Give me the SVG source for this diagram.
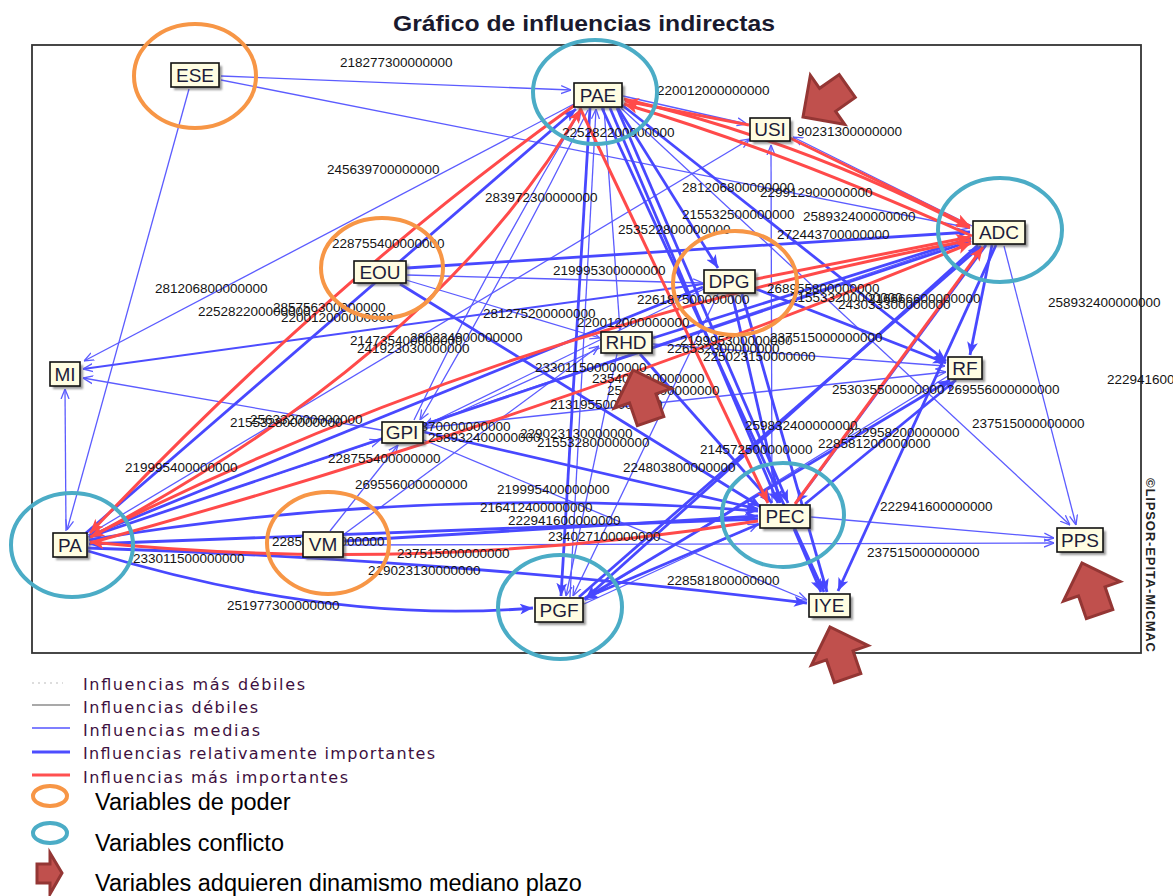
<svg xmlns="http://www.w3.org/2000/svg" width="1173" height="896" viewBox="0 0 1173 896">
<style>
  .t{fill:none;stroke:#5c5cff;stroke-width:1.3;marker-end:url(#mt)}
  .b{fill:none;stroke:#4848ff;stroke-width:2.8;marker-end:url(#mb)}
  .m{fill:none;stroke:#4d4dff;stroke-width:2;marker-end:url(#mt)}
  .r{fill:none;stroke:#ff4a4a;stroke-width:3;marker-end:url(#mr)}
  .lb{font-family:"Liberation Sans",Arial,sans-serif;font-size:13.5px;fill:#141414}
  .bx{fill:#fffde2;stroke:#111;stroke-width:1.6}
  .sh{fill:#555;opacity:.6;filter:url(#blur)}
  .nt{font-family:"Liberation Sans",Arial,sans-serif;font-size:19px;fill:#1c1c3a;text-anchor:middle}
  .pw{fill:none;stroke:#f79646;stroke-width:4}
  .cf{fill:none;stroke:#4bacc6;stroke-width:4}
  .ar{fill:#c0504d;stroke:#943634;stroke-width:3;stroke-linejoin:miter}
  .lg{font-family:"DejaVu Sans",Verdana,sans-serif;font-size:16px;fill:#3d1040}
  .lv{font-family:"Liberation Sans",Arial,sans-serif;font-size:23.5px;fill:#000}
</style>
<defs>
  <filter id="blur" x="-20%" y="-20%" width="140%" height="140%"><feGaussianBlur stdDeviation="1"/></filter>
  <marker id="mt" viewBox="0 0 10 10" refX="10" refY="5" markerWidth="10" markerHeight="10" markerUnits="userSpaceOnUse" orient="auto">
    <path d="M0,1 L10,5 L0,9" fill="none" stroke="#5c5cff" stroke-width="1.3"/>
  </marker>
  <marker id="mb" viewBox="0 0 12 10" refX="12" refY="5" markerWidth="13" markerHeight="11" markerUnits="userSpaceOnUse" orient="auto">
    <path d="M0,0 L12,5 L0,10 L3,5 Z" fill="#4848ff"/>
  </marker>
  <marker id="mr" viewBox="0 0 12 10" refX="12" refY="5" markerWidth="14" markerHeight="12" markerUnits="userSpaceOnUse" orient="auto">
    <path d="M0,0 L12,5 L0,10 L3,5 Z" fill="#ff4a4a"/>
  </marker>
  <path id="blk" d="M0,0 L-30,-30 L-30,-14 L-54,-14 L-54,14 L-30,14 L-30,30 Z"/>
</defs>

<rect width="1173" height="896" fill="#fff"/>

<!-- title and frame -->
<text x="393" y="31" font-family="Liberation Sans, Arial, sans-serif" font-size="22.5" font-weight="bold" fill="#1a1a2e" textLength="382" lengthAdjust="spacingAndGlyphs">Gráfico de influencias indirectas</text>
<rect x="32" y="45" width="1109" height="608" fill="none" stroke="#333" stroke-width="1.8"/>
<text transform="translate(1146,478) rotate(90)" font-family="Liberation Sans, Arial, sans-serif" font-size="13" font-weight="bold" fill="#222" textLength="174">©LIPSOR-EPITA-MICMAC</text>

<!-- connectors -->
<g id="connectors">
  <!-- medium influences -->
  <path class="t" d="M221,76 L571,90"/>
  <path class="t" d="M221,80 L970,228"/>
  <path class="t" d="M189,89 L67,530"/>
  <path class="t" d="M574,104 L84,361"/>
  <path class="t" d="M623,96 L747,124"/>
  <path class="t" d="M972,226 L793,137"/>
  <path class="t" d="M772,503 L771,145"/>
  <path class="t" d="M414,420 Q490,262 581,110"/>
  <path class="t" d="M588,110 Q508,270 420,420"/>
  <path class="t" d="M381,430 L83,378"/>
  <path class="t" d="M66,531 L65,389"/>
  <path class="t" d="M1004,246 L1076,525"/>
  <path class="t" d="M811,517 L1054,538"/>
  <path class="t" d="M344,545 L1054,543"/>
  <path class="t" d="M621,108 L1070,525"/>
  <path class="t" d="M948,376 L585,600"/>
  <path class="t" d="M718,294 L573,596"/>
  <path class="t" d="M617,354 L566,596"/>
  <path class="t" d="M88,535 L750,139"/>
  <path class="t" d="M88,537 L380,440"/>
  <path class="t" d="M330,531 L398,445"/>
  <path class="t" d="M424,440 L807,600"/>
  <path class="t" d="M653,344 L945,366"/>
  <path class="t" d="M604,108 L620,330"/>
  <path class="t" d="M343,535 L599,346"/>
  <path class="t" d="M406,280 L600,338"/>
  <path class="t" d="M584,604 L758,524"/>
  <path class="t" d="M570,597 L596,109"/>
  <path class="t" d="M407,275 L703,283"/>
  <path class="t" d="M424,428 L946,372"/>
  <path class="t" d="M424,424 L971,239"/>
  <path class="t" d="M704,289 L424,426"/>
  <path class="t" d="M600,348 L424,428"/>
  <!-- relatively important influences -->
  <path class="b" d="M86,533 L576,109"/>
  <path class="b" d="M590,108 L561,596"/>
  <path class="b" d="M610,108 L778,503"/>
  <path class="b" d="M617,108 L788,503"/>
  <path class="b" d="M602,108 L824,592"/>
  <path class="b" d="M622,105 L946,361"/>
  <path class="b" d="M618,108 L718,268"/>
  <path class="b" d="M407,268 L970,232"/>
  <path class="b" d="M400,284 L761,507"/>
  <path class="b" d="M992,245 L970,355"/>
  <path class="b" d="M986,245 L796,503"/>
  <path class="b" d="M996,245 L838,591"/>
  <path class="b" d="M978,245 L586,598"/>
  <path class="b" d="M971,241 L89,537"/>
  <path class="b" d="M794,529 L821,592"/>
  <path class="b" d="M758,519 L89,544"/>
  <path class="b" d="M88,551 Q330,625 533,608"/>
  <path class="b" d="M88,548 Q460,560 807,603"/>
  <path class="b" d="M344,541 L758,516"/>
  <path class="b" d="M89,540 Q420,485 758,511"/>
  <path class="b" d="M756,289 L946,363"/>
  <path class="b" d="M732,294 L780,503"/>
  <path class="b" d="M742,294 L827,592"/>
  <path class="b" d="M579,597 L981,246"/>
  <path class="b" d="M584,599 L950,380"/>
  <path class="b" d="M805,504 L956,380"/>
  <path class="m" d="M703,284 L83,369"/>
  <path class="b" d="M424,432 L758,509"/>
  <path class="b" d="M653,338 L971,238"/>
  <path class="b" d="M640,354 L772,503"/>
  <path class="b" d="M703,287 L89,536"/>
  <path class="b" d="M759,524 L585,598"/>
  <!-- most important influences -->
  <path class="r" d="M575,105 Q330,280 90,533"/>
  <path class="r" d="M91,537 Q440,350 581,109"/>
  <path class="r" d="M972,236 Q780,150 624,104"/>
  <path class="r" d="M624,99 Q800,140 970,228"/>
  <path class="r" d="M790,138 L970,226"/>
  <path class="r" d="M749,125 L625,101"/>
  <path class="r" d="M756,279 L970,237"/>
  <path class="r" d="M795,504 L983,247"/>
  <path class="r" d="M580,108 L768,503"/>
  <path class="r" d="M758,521 Q420,575 90,542"/>
  <path class="r" d="M971,240 Q500,330 90,537"/>
  <path class="r" d="M90,543 Q540,420 971,243"/>
</g>

<!-- connector values -->
<g id="values">
  <text class="lb" x="340" y="67">218277300000000</text>
  <text class="lb" x="657" y="95">220012000000000</text>
  <text class="lb" x="562" y="137">225282200000000</text>
  <text class="lb" x="797" y="136">90231300000000</text>
  <text class="lb" x="327" y="174">245639700000000</text>
  <text class="lb" x="485" y="202">283972300000000</text>
  <text class="lb" x="682" y="192">281206800000000</text>
  <text class="lb" x="760" y="197">229912900000000</text>
  <text class="lb" x="682" y="219">215532500000000</text>
  <text class="lb" x="803" y="221">258932400000000</text>
  <text class="lb" x="618" y="234">253522800000000</text>
  <text class="lb" x="777" y="239">272443700000000</text>
  <text class="lb" x="332" y="248">228755400000000</text>
  <text class="lb" x="553" y="275">219995300000000</text>
  <text class="lb" x="155" y="293">281206800000000</text>
  <text class="lb" x="198" y="316">225282200000000</text>
  <text class="lb" x="273" y="312">285756300000000</text>
  <text class="lb" x="281" y="322">220012000000000</text>
  <text class="lb" x="483" y="318">281275200000000</text>
  <text class="lb" x="577" y="327">220012000000000</text>
  <text class="lb" x="637" y="304">226187500000000</text>
  <text class="lb" x="767" y="293">268955800000000</text>
  <text class="lb" x="790" y="302">215533200000000</text>
  <text class="lb" x="838" y="309">243033300000000</text>
  <text class="lb" x="868" y="303">216666600000000</text>
  <text class="lb" x="350" y="345">214735400000000</text>
  <text class="lb" x="410" y="342">280224900000000</text>
  <text class="lb" x="357" y="353">241923030000000</text>
  <text class="lb" x="680" y="345">219995300000000</text>
  <text class="lb" x="770" y="342">237515000000000</text>
  <text class="lb" x="667" y="353">226532300000000</text>
  <text class="lb" x="703" y="361">225023150000000</text>
  <text class="lb" x="535" y="372">233011500000000</text>
  <text class="lb" x="592" y="383">235402800000000</text>
  <text class="lb" x="607" y="395">253022200000000</text>
  <text class="lb" x="550" y="409">213195500000000</text>
  <text class="lb" x="745" y="430">259832400000000</text>
  <text class="lb" x="700" y="454">214572500000000</text>
  <text class="lb" x="623" y="472">224803800000000</text>
  <text class="lb" x="832" y="394">253035500000000</text>
  <text class="lb" x="947" y="394">269556000000000</text>
  <text class="lb" x="972" y="428">237515000000000</text>
  <text class="lb" x="847" y="437">222958200000000</text>
  <text class="lb" x="818" y="448">228581200000000</text>
  <text class="lb" x="1048" y="307">258932400000000</text>
  <text class="lb" x="1107" y="384">222941600000000</text>
  <text class="lb" x="880" y="511">222941600000000</text>
  <text class="lb" x="867" y="557">237515000000000</text>
  <text class="lb" x="667" y="585">228581800000000</text>
  <text class="lb" x="497" y="494">219995400000000</text>
  <text class="lb" x="480" y="512">216412400000000</text>
  <text class="lb" x="508" y="525">222941600000000</text>
  <text class="lb" x="548" y="541">234027100000000</text>
  <text class="lb" x="397" y="558">237515000000000</text>
  <text class="lb" x="368" y="575">219023130000000</text>
  <text class="lb" x="133" y="563">233011500000000</text>
  <text class="lb" x="227" y="610">251977300000000</text>
  <text class="lb" x="272" y="546">228555900000000</text>
  <text class="lb" x="125" y="472">219995400000000</text>
  <text class="lb" x="328" y="463">228755400000000</text>
  <text class="lb" x="355" y="489">269556000000000</text>
  <text class="lb" x="230" y="427">215532800000000</text>
  <text class="lb" x="250" y="424">256332000000000</text>
  <text class="lb" x="398" y="431">228370000000000</text>
  <text class="lb" x="428" y="442">258932400000000</text>
  <text class="lb" x="520" y="438">229023130000000</text>
  <text class="lb" x="537" y="447">215532800000000</text>
</g>

<!-- variables -->
<g id="node-ESE"><rect class="sh" x="174" y="66" width="48" height="24"/><rect class="bx" x="171" y="63" width="48" height="24"/><text class="nt" x="195" y="82">ESE</text></g>
<g id="node-PAE"><rect class="sh" x="577" y="86" width="48" height="24"/><rect class="bx" x="574" y="83" width="48" height="24"/><text class="nt" x="598" y="102">PAE</text></g>
<g id="node-USI"><rect class="sh" x="753" y="121" width="40" height="23"/><rect class="bx" x="750" y="118" width="40" height="23"/><text class="nt" x="770" y="136">USI</text></g>
<g id="node-ADC"><rect class="sh" x="976" y="224" width="52" height="23"/><rect class="bx" x="973" y="221" width="52" height="23"/><text class="nt" x="999" y="239">ADC</text></g>
<g id="node-EOU"><rect class="sh" x="357" y="264" width="52" height="22"/><rect class="bx" x="354" y="261" width="52" height="22"/><text class="nt" x="380" y="279">EOU</text></g>
<g id="node-DPG"><rect class="sh" x="707" y="273" width="51" height="23"/><rect class="bx" x="704" y="270" width="51" height="23"/><text class="nt" x="729" y="288">DPG</text></g>
<g id="node-RHD"><rect class="sh" x="604" y="335" width="51" height="21"/><rect class="bx" x="601" y="332" width="51" height="21"/><text class="nt" x="626" y="349">RHD</text></g>
<g id="node-MI"><rect class="sh" x="53" y="365" width="30" height="24"/><rect class="bx" x="50" y="362" width="30" height="24"/><text class="nt" x="65" y="381">MI</text></g>
<g id="node-GPI"><rect class="sh" x="385" y="425" width="41" height="21"/><rect class="bx" x="382" y="422" width="41" height="21"/><text class="nt" x="402" y="439">GPI</text></g>
<g id="node-RF"><rect class="sh" x="951" y="360" width="34" height="22"/><rect class="bx" x="948" y="357" width="34" height="22"/><text class="nt" x="965" y="375">RF</text></g>
<g id="node-PA"><rect class="sh" x="56" y="536" width="34" height="24"/><rect class="bx" x="53" y="533" width="34" height="24"/><text class="nt" x="70" y="552">PA</text></g>
<g id="node-VM"><rect class="sh" x="306" y="535" width="40" height="25"/><rect class="bx" x="303" y="532" width="40" height="25"/><text class="nt" x="323" y="551">VM</text></g>
<g id="node-PEC"><rect class="sh" x="763" y="508" width="50" height="23"/><rect class="bx" x="760" y="505" width="50" height="23"/><text class="nt" x="785" y="523">PEC</text></g>
<g id="node-PGF"><rect class="sh" x="538" y="601" width="48" height="24"/><rect class="bx" x="535" y="598" width="48" height="24"/><text class="nt" x="559" y="617">PGF</text></g>
<g id="node-IYE"><rect class="sh" x="812" y="597" width="41" height="23"/><rect class="bx" x="809" y="594" width="41" height="23"/><text class="nt" x="829" y="612">IYE</text></g>
<g id="node-PPS"><rect class="sh" x="1060" y="531" width="46" height="24"/><rect class="bx" x="1057" y="528" width="46" height="24"/><text class="nt" x="1080" y="547">PPS</text></g>

<!-- power / conflict rings -->
<g id="rings">
  <ellipse class="pw" cx="195" cy="76" rx="61" ry="52"/>
  <ellipse class="pw" cx="382" cy="268" rx="61" ry="50"/>
  <ellipse class="pw" cx="735" cy="283" rx="62" ry="52"/>
  <ellipse class="pw" cx="328" cy="543" rx="61" ry="51"/>
  <ellipse class="cf" cx="595" cy="92" rx="62" ry="52"/>
  <ellipse class="cf" cx="1000" cy="230" rx="62" ry="52"/>
  <ellipse class="cf" cx="72" cy="545" rx="61" ry="52"/>
  <ellipse class="cf" cx="783" cy="515" rx="61" ry="52"/>
  <ellipse class="cf" cx="560" cy="607" rx="62" ry="52"/>
</g>

<!-- medium-term dynamism markers -->
<g id="dynamism">
  <use href="#blk" class="ar" transform="translate(803,117) rotate(145)"/>
  <use href="#blk" class="ar" transform="translate(633,370) rotate(-109)"/>
  <use href="#blk" class="ar" transform="translate(830,627) rotate(-109)"/>
  <use href="#blk" class="ar" transform="translate(1082,563) rotate(-109)"/>
</g>

<!-- legend -->
<g id="legend">
  <line x1="32" y1="683" x2="63" y2="683" stroke="#bbb" stroke-width="1" stroke-dasharray="2,4"/>
  <line x1="32" y1="705" x2="70" y2="705" stroke="#555" stroke-width="1.2"/>
  <line x1="32" y1="728" x2="70" y2="728" stroke="#5555ff" stroke-width="1.5"/>
  <line x1="32" y1="752" x2="70" y2="752" stroke="#4d4dff" stroke-width="3"/>
  <line x1="32" y1="775" x2="70" y2="775" stroke="#ff5050" stroke-width="3"/>
  <text class="lg" x="83" y="690" textLength="222">Influencias más débiles</text>
  <text class="lg" x="83" y="713" textLength="175">Influencias débiles</text>
  <text class="lg" x="83" y="736" textLength="177">Influencias medias</text>
  <text class="lg" x="83" y="759" textLength="352">Influencias relativamente importantes</text>
  <text class="lg" x="83" y="783" textLength="265">Influencias más importantes</text>
  <ellipse class="pw" cx="50" cy="796" rx="17" ry="10"/>
  <ellipse class="cf" cx="50" cy="833" rx="17" ry="10"/>
  <path class="ar" d="M62,873 L50,853 L50,864 L37,864 L37,883 L50,883 L50,894 Z" stroke-width="2"/>
  <text class="lv" x="95" y="810">Variables de poder</text>
  <text class="lv" x="95" y="851">Variables conflicto</text>
  <text class="lv" x="95" y="891">Variables adquieren dinamismo mediano plazo</text>
</g>
</svg>
